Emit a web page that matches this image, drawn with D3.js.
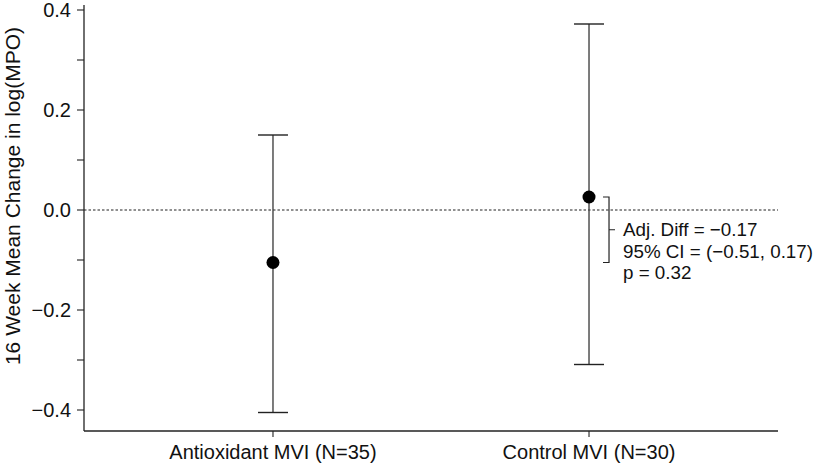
<!DOCTYPE html>
<html>
<head>
<meta charset="utf-8">
<script src="https://cdn.jsdelivr.net/npm/d3@7"></script>
<style>
  html, body { margin: 0; padding: 0; background: #fff; }
  svg { display: block; font-family: "Liberation Sans", Arial, Helvetica, sans-serif; }
</style>
</head>
<body>
<svg id="chart" width="825" height="465"></svg>
<script>
const categories = ["Antioxidant MVI (N=35)", "Control MVI (N=30)"];
const means = [-0.105, 0.026];
const lower = [-0.405, -0.309];
const upper = [0.150, 0.372];
const yTicks = [-0.4, -0.2, 0.0, 0.2, 0.4];
const yMinorTicks = [-0.4, -0.3, -0.2, -0.1, 0.0, 0.1, 0.2, 0.3, 0.4];
const annotation = ["Adj. Diff = \u22120.17", "95% CI = (\u22120.51, 0.17)", "p = 0.32"];
const yLabel = "16 Week Mean Change in log(MPO)";

const svg = d3.select("#chart");
const left = 84, right = 778, axisBottom = 431, axisTop = 5;

const x = d3.scalePoint().domain(categories).range([left, right]).padding(0.598);
const y = d3.scaleLinear().domain([-0.4, 0.4]).range([410, 10]);

const fmt = v => (v < 0 ? "\u2212" : "") + Math.abs(v).toFixed(1);

// Zero reference line
svg.append("line")
  .attr("x1", left).attr("x2", right)
  .attr("y1", y(0)).attr("y2", y(0))
  .attr("stroke", "#222").attr("stroke-width", 1.2)
  .attr("stroke-dasharray", "2.5,2");

// Y axis
const yAxisG = svg.append("g").attr("transform", `translate(${left},0)`);
yAxisG.append("line")
  .attr("x1", 0).attr("x2", 0).attr("y1", axisTop).attr("y2", axisBottom)
  .attr("stroke", "#222").attr("stroke-width", 1.3);
yAxisG.selectAll("line.tick").data(yMinorTicks).join("line")
  .attr("class", "tick")
  .attr("x1", -7).attr("x2", 0)
  .attr("y1", d => y(d)).attr("y2", d => y(d))
  .attr("stroke", "#222").attr("stroke-width", 1.1);
yAxisG.selectAll("text.tl").data(yTicks).join("text")
  .attr("class", "tl")
  .attr("x", -13).attr("y", d => y(d))
  .attr("dy", "0.36em")
  .attr("text-anchor", "end")
  .attr("font-size", 20).attr("fill", "#111")
  .text(d => fmt(d));

// X axis
const xAxisG = svg.append("g").attr("transform", `translate(0,${axisBottom})`);
xAxisG.append("line")
  .attr("x1", left).attr("x2", right).attr("y1", 0).attr("y2", 0)
  .attr("stroke", "#222").attr("stroke-width", 1.3);
xAxisG.selectAll("line.tick").data(categories).join("line")
  .attr("class", "tick")
  .attr("x1", d => x(d)).attr("x2", d => x(d))
  .attr("y1", 0).attr("y2", 6)
  .attr("stroke", "#222").attr("stroke-width", 1.1);
xAxisG.selectAll("text").data(categories).join("text")
  .attr("x", d => x(d)).attr("y", 28)
  .attr("text-anchor", "middle")
  .attr("font-size", 20).attr("fill", "#111")
  .text(d => d);

// Y label
svg.append("text")
  .attr("transform", "translate(20,196) rotate(-90)")
  .attr("text-anchor", "middle")
  .attr("font-size", 21).attr("fill", "#111")
  .text(yLabel);

// Error bars
const capHalf = 15;
const g = svg.append("g");
categories.forEach((c, i) => {
  const cx = x(c);
  g.append("line").attr("x1", cx).attr("x2", cx)
    .attr("y1", y(upper[i])).attr("y2", y(lower[i]))
    .attr("stroke", "#444").attr("stroke-width", 1.4);
  [upper[i], lower[i]].forEach(v => {
    g.append("line").attr("x1", cx - capHalf).attr("x2", cx + capHalf)
      .attr("y1", y(v)).attr("y2", y(v))
      .attr("stroke", "#222").attr("stroke-width", 1.4);
  });
  g.append("circle").attr("cx", cx).attr("cy", y(means[i])).attr("r", 6.5)
    .attr("fill", "#000");
});

// Bracket annotation
const bx = x(categories[1]) + 20;
const yTop = y(means[1]), yBot = y(means[0]);
const yMid = (yTop + yBot) / 2;
svg.append("path")
  .attr("d", `M${bx - 6},${yTop} H${bx} V${yBot} H${bx - 6} M${bx},${yMid} H${bx + 6}`)
  .attr("fill", "none").attr("stroke", "#222").attr("stroke-width", 1.2);
svg.selectAll("text.ann").data(annotation).join("text")
  .attr("class", "ann")
  .attr("x", bx + 14)
  .attr("y", (d, i) => yMid + 6.5 + i * 21.5)
  .attr("font-size", 18.8).attr("fill", "#111")
  .text(d => d);
</script>
</body>
</html>
